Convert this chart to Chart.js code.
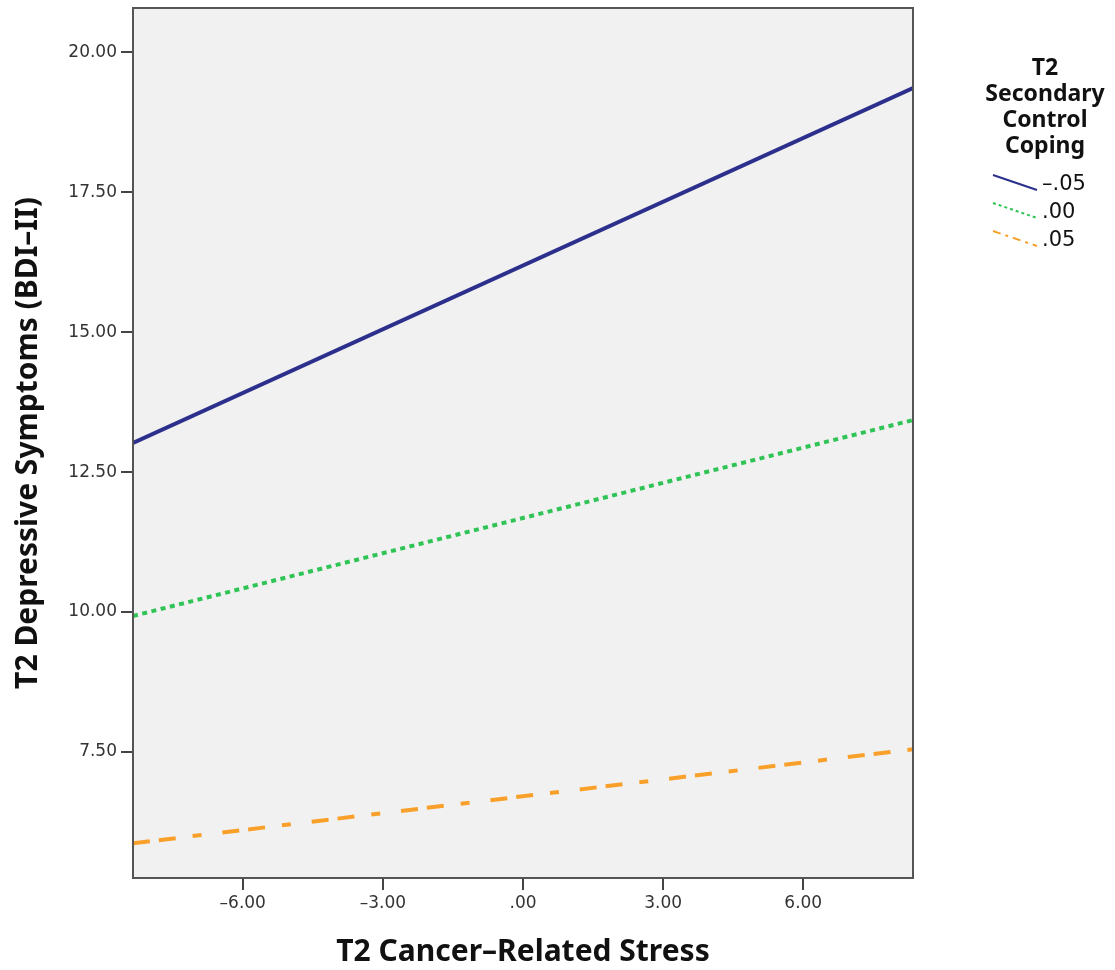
<!DOCTYPE html>
<html>
<head>
<meta charset="utf-8">
<script src="https://cdn.jsdelivr.net/npm/chart.js@4/dist/chart.umd.min.js"></script>
<style>
  html, body { margin: 0; padding: 0; background: #fff; }
  #wrap { width: 1115px; height: 970px; position: relative; }
</style>
</head>
<body>
<div id="wrap"><canvas id="plot"></canvas></div>
<script>
// x range of the stress variable and the three fitted lines (value at left and right edge)
const stressRange = [-8.35, 8.35];
const copingLevels = ['\u2013.05', '.00', '.05'];
const lowCoping = [13.02, 19.36];
const midCoping = [9.93, 13.43];
const highCoping = [5.87, 7.55];
const xTicks = [-6, -3, 0, 3, 6];
const yTicks = [7.5, 10, 12.5, 15, 17.5, 20];

const colors = ['#2c2f8c', '#2fc455', '#f9a02a'];
const dashes = [[], [5, 4.5], [17, 9, 17, 17, 9, 21]];
const series = [lowCoping, midCoping, highCoping];

function fmt(v) {
    let s = Math.abs(v).toFixed(2);
    if (s.startsWith('0')) s = s.slice(1);
    return (v < 0 ? '\u2013' : '') + s;
}

// grey plot background + frame + legend
const frame = {
    id: 'frame',
    beforeDraw(chart) {
        const { ctx, chartArea: a } = chart;
        ctx.save();
        ctx.fillStyle = '#f1f1f1';
        ctx.fillRect(a.left, a.top, a.right - a.left, a.bottom - a.top);
        ctx.restore();
    },
    afterDraw(chart) {
        const { ctx, chartArea: a } = chart;
        ctx.save();
        ctx.strokeStyle = '#555';
        ctx.lineWidth = 2;
        ctx.strokeRect(a.left, a.top, a.right - a.left, a.bottom - a.top);

        ctx.fillStyle = '#111';
        ctx.font = 'bold 23px "Noto Sans"';
        ctx.textAlign = 'center';
        ctx.textBaseline = 'middle';
        ['T2', 'Secondary', 'Control', 'Coping'].forEach((t, i) => {
            ctx.fillText(t, 1045, 68 + i * 26);
        });
        ctx.font = '21px "DejaVu Sans"';
        ctx.textAlign = 'left';
        copingLevels.forEach((lab, i) => {
            const y = 183 + i * 28;
            ctx.strokeStyle = colors[i];
            ctx.lineWidth = 2;
            ctx.setLineDash(i === 0 ? [] : (i === 1 ? [3, 3] : [8, 5, 3, 5]));
            ctx.beginPath();
            ctx.moveTo(993, y - 8);
            ctx.lineTo(1037, y + 7);
            ctx.stroke();
            ctx.setLineDash([]);
            ctx.fillStyle = '#111';
            ctx.fillText(lab, 1042, y + 2);
        });
        ctx.restore();
    }
};

const datasets = series.map((vals, i) => ({
    label: copingLevels[i],
    data: [{ x: stressRange[0], y: vals[0] }, { x: stressRange[1], y: vals[1] }],
    borderColor: colors[i],
    borderWidth: 4,
    borderDash: dashes[i],
    pointRadius: 0,
    fill: false
}));

const tickFont = { family: 'DejaVu Sans', size: 17 };
const titleFont = { family: 'Noto Sans', size: 30, weight: 'bold' };

new Chart(document.getElementById('plot'), {
    type: 'line',
    data: { datasets: datasets },
    options: {
        responsive: true,
        maintainAspectRatio: false,
        animation: false,
        layout: { padding: { left: 10, top: 8, right: 202, bottom: 0 } },
        plugins: {
            legend: { display: false },
            tooltip: { enabled: false }
        },
        scales: {
            x: {
                type: 'linear',
                min: stressRange[0],
                max: stressRange[1],
                afterBuildTicks: axis => { axis.ticks = xTicks.map(v => ({ value: v })); },
                afterFit: axis => { axis.height = 92; axis.paddingLeft = 0; axis.paddingRight = 0; },
                grid: { drawOnChartArea: false, tickLength: 12, tickColor: '#444', lineWidth: 2 },
                border: { display: false },
                ticks: {
                    color: '#333',
                    font: tickFont,
                    padding: 3,
                    callback: v => fmt(v)
                },
                title: {
                    display: true,
                    text: 'T2 Cancer\u2013Related Stress',
                    color: '#111',
                    font: titleFont,
                    padding: { top: 12, bottom: 0 }
                }
            },
            y: {
                type: 'linear',
                min: 5.25,
                max: 20.79,
                afterBuildTicks: axis => { axis.ticks = yTicks.map(v => ({ value: v })); },
                afterFit: axis => { axis.width = 123; axis.paddingTop = 0; axis.paddingBottom = 0; },
                grid: { drawOnChartArea: false, tickLength: 12, tickColor: '#444', lineWidth: 2 },
                border: { display: false },
                ticks: {
                    color: '#333',
                    font: tickFont,
                    padding: 4,
                    callback: v => fmt(v)
                },
                title: {
                    display: true,
                    text: 'T2 Depressive Symptoms (BDI\u2013II)',
                    color: '#111',
                    font: titleFont,
                    padding: { top: 0, bottom: 8 }
                }
            }
        }
    },
    plugins: [frame]
});
</script>
</body>
</html>
